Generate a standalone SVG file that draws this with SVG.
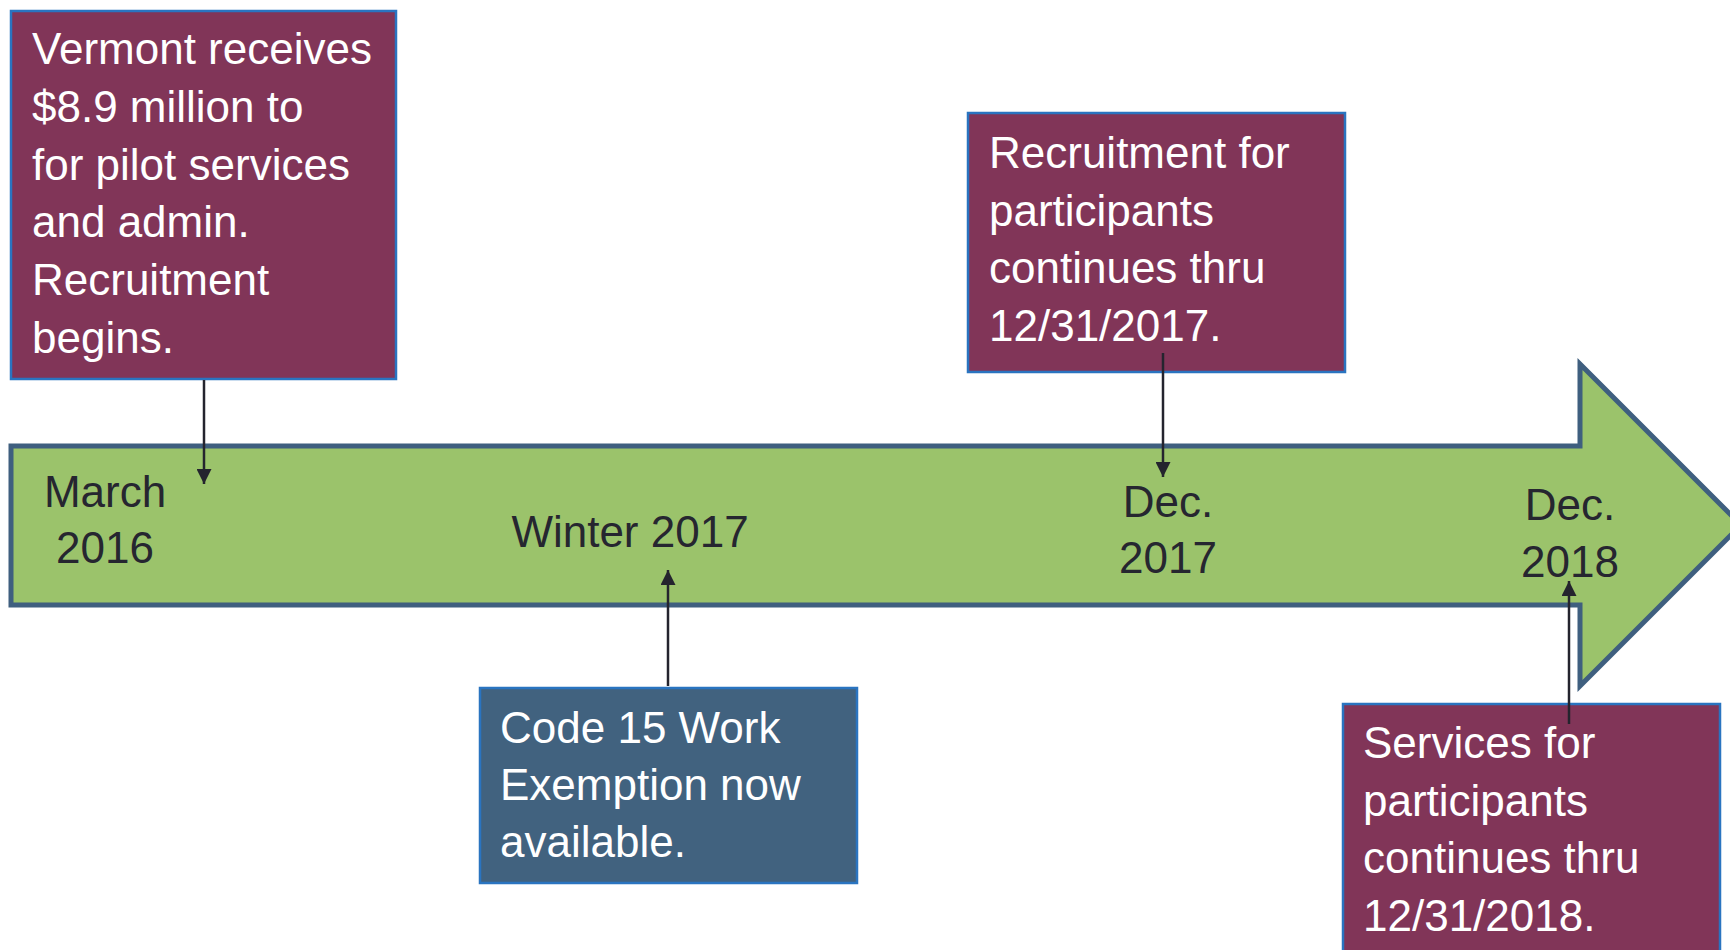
<svg xmlns="http://www.w3.org/2000/svg" width="1730" height="950" viewBox="0 0 1730 950">
<style>
.box{stroke:#2a74c0;stroke-width:2.5}
.maroon{fill:#813558}
.blue{fill:#41627f}
.bt{font-family:"Liberation Sans",Arial,sans-serif;font-size:44px;fill:#ffffff}
.lt{font-family:"Liberation Sans",Arial,sans-serif;font-size:44px;fill:#262630;text-anchor:middle}
.conn{stroke:#24242e;stroke-width:2.5;fill:none}
</style>
<defs>
<marker id="ah" viewBox="0 0 10 10" refX="10" refY="5" markerWidth="6" markerHeight="6" markerUnits="strokeWidth" orient="auto">
<path d="M0,0 L10,5 L0,10 z" fill="#24242e"/>
</marker>
</defs>
<rect width="1730" height="950" fill="#ffffff"/>
<g id="timeline">
<path d="M11,446 H1580 V364 L1741,525 L1580,686 V605 H11 Z" fill="#9bc36b" stroke="#3f5f7f" stroke-width="5"/>
<text class="lt" x="105" y="507">March</text>
<text class="lt" x="105" y="563">2016</text>
<text class="lt" x="630" y="547">Winter 2017</text>
<text class="lt" x="1168" y="517">Dec.</text>
<text class="lt" x="1168" y="573">2017</text>
<text class="lt" x="1570" y="520">Dec.</text>
<text class="lt" x="1570" y="577">2018</text>
</g>
<g id="box-vermont">
<rect class="box maroon" x="11" y="11" width="385" height="368"/>
<text class="bt" x="32" y="64">Vermont receives</text>
<text class="bt" x="32" y="122">$8.9 million to</text>
<text class="bt" x="32" y="180">for pilot services</text>
<text class="bt" x="32" y="237">and admin.</text>
<text class="bt" x="32" y="295">Recruitment</text>
<text class="bt" x="32" y="353">begins.</text>
</g>
<g id="box-recruitment">
<rect class="box maroon" x="968" y="113" width="377" height="259"/>
<text class="bt" x="989" y="168">Recruitment for</text>
<text class="bt" x="989" y="226">participants</text>
<text class="bt" x="989" y="283">continues thru</text>
<text class="bt" x="989" y="341">12/31/2017.</text>
</g>
<g id="box-code15">
<rect class="box blue" x="480" y="688" width="377" height="195"/>
<text class="bt" x="500" y="743">Code 15 Work</text>
<text class="bt" x="500" y="800">Exemption now</text>
<text class="bt" x="500" y="857">available.</text>
</g>
<g id="box-services">
<rect class="box maroon" x="1343" y="704" width="377" height="260"/>
<text class="bt" x="1363" y="758">Services for</text>
<text class="bt" x="1363" y="816">participants</text>
<text class="bt" x="1363" y="873">continues thru</text>
<text class="bt" x="1363" y="931">12/31/2018.</text>
</g>
<g id="connectors">
<line class="conn" x1="204" y1="380" x2="204" y2="484" marker-end="url(#ah)"/>
<line class="conn" x1="668" y1="686" x2="668" y2="570" marker-end="url(#ah)"/>
<line class="conn" x1="1163" y1="353" x2="1163" y2="477" marker-end="url(#ah)"/>
<line class="conn" x1="1569" y1="724" x2="1569" y2="581" marker-end="url(#ah)"/>
</g>
</svg>
